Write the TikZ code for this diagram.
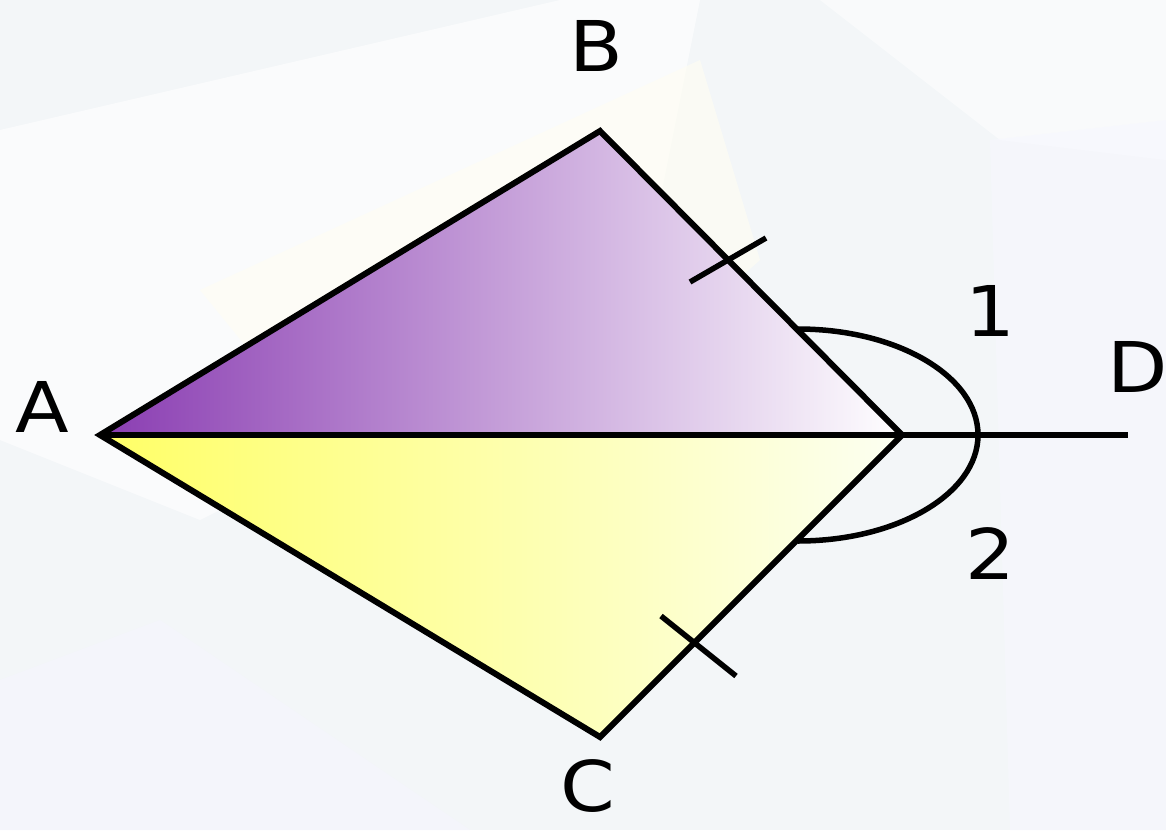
\documentclass[tikz,border=0pt]{standalone}
\usepackage{fontspec}
\setmainfont{DejaVu Sans}
\definecolor{bgc}{HTML}{F3F6F8}
\definecolor{purp}{HTML}{8A3DB2}
\definecolor{yel}{HTML}{FFFF66}
\definecolor{yelw}{HTML}{FCFFF2}
\tikzset{
  edge/.style={line width=6pt, line join=miter},
  tick/.style={line width=5.5pt},
  lbl/.style={font=\fontsize{70}{70}\selectfont, inner sep=0pt, xscale=1.12},
}
\begin{document}
\begin{tikzpicture}[x=1pt,y=-1pt]
\useasboundingbox (0,0) rectangle (1166,830);
% background
\fill[bgc] (0,0) rectangle (1166,830);
\fill[white,opacity=0.6] (0,130) -- (560,0) -- (700,0) -- (640,300) -- (200,520) -- (0,440) -- cycle;
\fill[yellow!5,opacity=0.6] (200,290) -- (700,60) -- (760,260) -- (420,560) -- cycle;
\fill[white,opacity=0.5] (820,0) -- (1166,0) -- (1166,160) -- (1000,140) -- cycle;
\fill[blue!4,opacity=0.5] (0,680) -- (160,620) -- (470,830) -- (0,830) -- cycle;
\fill[blue!3,opacity=0.5] (990,140) -- (1166,120) -- (1166,830) -- (1010,830) -- cycle;
% points
\coordinate (A) at (100,435);
\coordinate (B) at (600,131);
\coordinate (C) at (600,737);
\coordinate (E) at (902,435);
\coordinate (D) at (1128,435);
\coordinate (P) at (798,329);
\coordinate (T1a) at (690,282);
\coordinate (T1b) at (766,238);
\coordinate (T2a) at (661,616);
\coordinate (T2b) at (736,676);
% fills
\shade[left color=purp, right color=white] (A) -- (B) -- (E) -- cycle;
\shade[left color=yel, right color=yelw] (A) -- (E) -- (C) -- cycle;
% arc
\draw[line width=5.5pt] (P) arc[start angle=-90, end angle=90, x radius=180, y radius=106];
% edges
\draw[edge] (A) -- (B) -- (E) -- (C) -- cycle;
\draw[edge] (A) -- (E);
\draw[line width=5.5pt] (E) -- (D);
% ticks
\draw[tick] (T1a) -- (T1b);
\draw[tick] (T2a) -- (T2b);
% labels
\node[lbl] (lA) at (42,407) {A};
\node[lbl] (lB) at (596,46) {B};
\node[lbl] (lC) at (588,786) {C};
\node[lbl] (lD) at (1138,367) {D};
\node[lbl] (l1) at (990,311) {1};
\node[lbl] (l2) at (990,554) {2};
\end{tikzpicture}
\end{document}
